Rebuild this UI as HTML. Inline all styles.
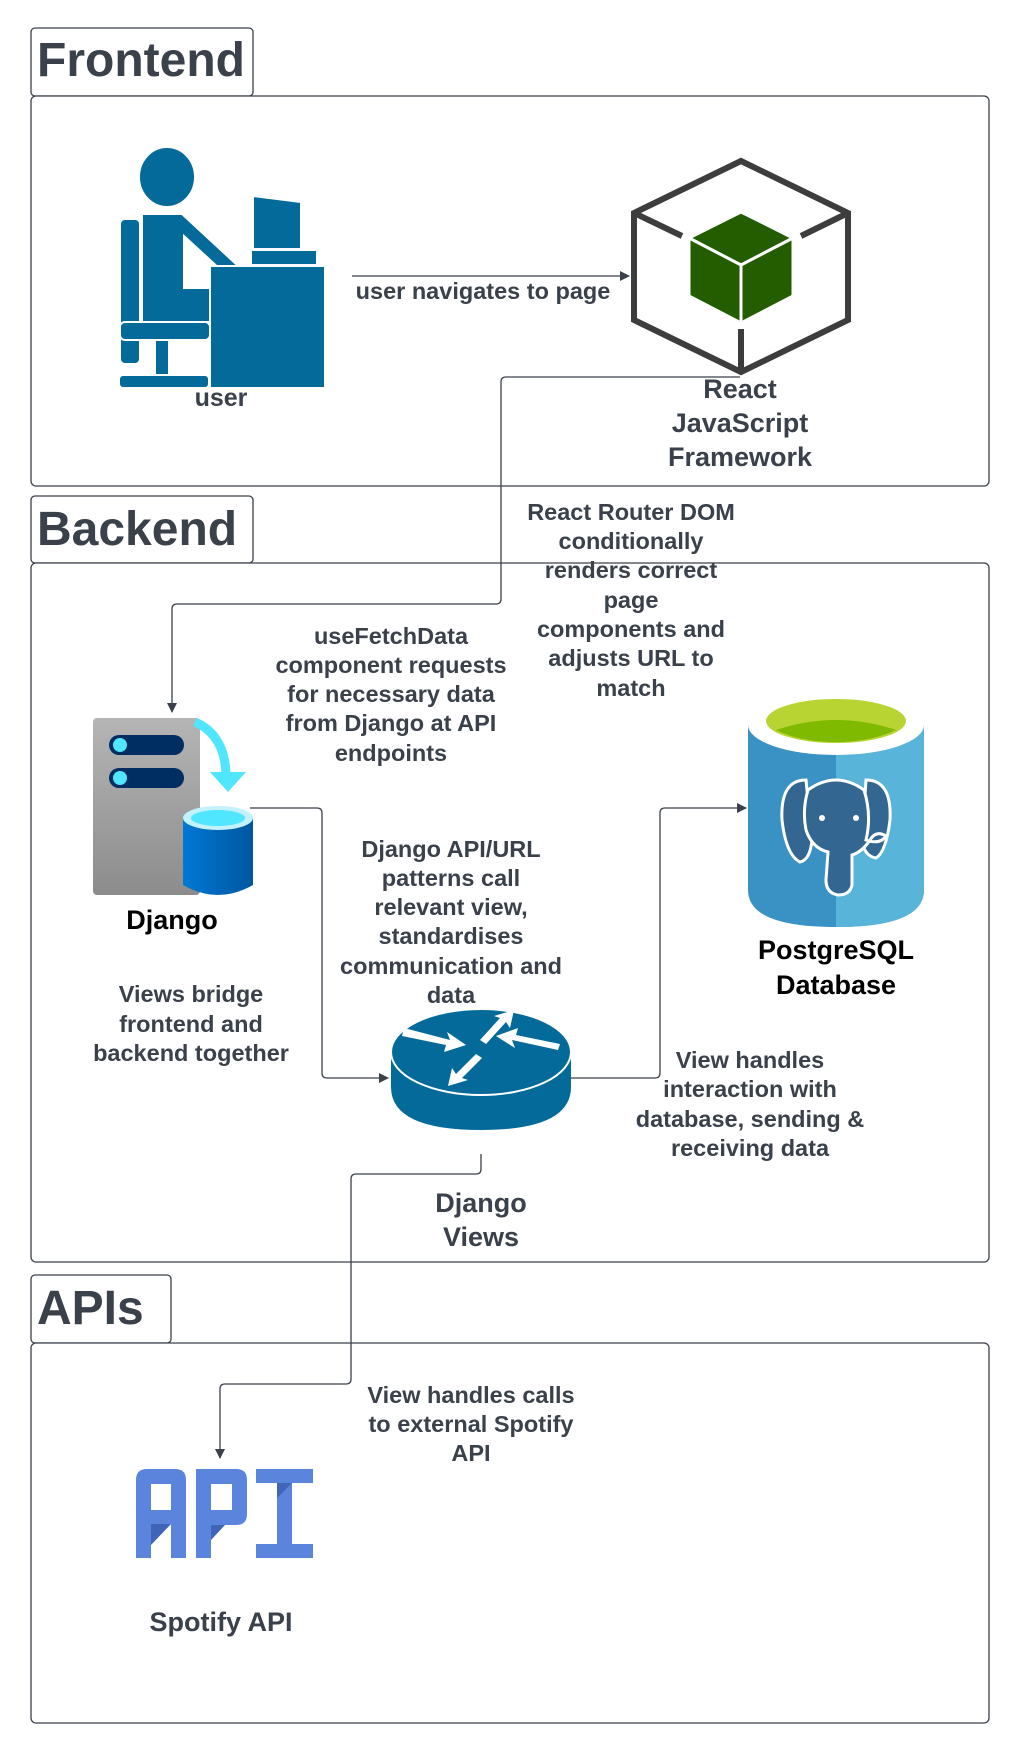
<!DOCTYPE html>
<html><head><meta charset="utf-8"><style>
html,body{margin:0;padding:0;background:#fff}
svg{display:block}
text{font-family:"Liberation Sans",Arial,sans-serif;font-weight:bold;fill:#3a414a}
</style></head><body>
<svg width="1018" height="1748" viewBox="0 0 1018 1748" xmlns="http://www.w3.org/2000/svg">
<defs>
<marker id="ah" markerWidth="10" markerHeight="10" refX="9" refY="5" orient="auto" markerUnits="userSpaceOnUse"><path d="M0,0 L10,5 L0,10 z" fill="#3a414a"/></marker>
<linearGradient id="srv" x1="0" y1="0" x2="0" y2="1"><stop offset="0" stop-color="#b5b5b5"/><stop offset="1" stop-color="#8c8c8c"/></linearGradient>
<linearGradient id="cyl" x1="0" y1="0" x2="1" y2="0"><stop offset="0" stop-color="#0078d4"/><stop offset="1" stop-color="#0057a0"/></linearGradient>
</defs>
<g fill="#fff" stroke="#3a414a" stroke-width="1.3">
<rect x="31" y="28" width="222" height="68" rx="4"/>
<rect x="31" y="96" width="958" height="390" rx="5"/>
<rect x="31" y="496" width="222" height="67" rx="4"/>
<rect x="31" y="563" width="958" height="699" rx="5"/>
<rect x="31" y="1275" width="140" height="68" rx="4"/>
<rect x="31" y="1343" width="958" height="380" rx="5"/>
</g>
<text x="37" y="76" font-size="48">Frontend</text>
<text x="37" y="545" font-size="48">Backend</text>
<text x="37" y="1324" font-size="48">APIs</text>

<!-- user icon -->
<g fill="#036a9a" stroke="#fff" stroke-width="2">
<ellipse cx="167" cy="177" rx="28" ry="30"/>
<rect x="120" y="219" width="20" height="145" rx="5"/>
<path d="M142 214 L182 214 L236 264 Q244 276 234 282 L184 236 L184 288 L210 288 L210 322 L142 322 Z"/>
<rect x="120" y="322" width="90" height="18" rx="5"/>
<rect x="155" y="340" width="14" height="36"/>
<rect x="119" y="375" width="90" height="13" rx="4"/>
<path d="M253 196 L301 202 L301 249 L253 249 Z"/>
<rect x="251" y="250" width="66" height="15"/>
<rect x="210" y="266" width="115" height="122"/>
</g>
<text x="221" y="406" font-size="25" text-anchor="middle">user</text>

<line x1="352" y1="276" x2="629" y2="276" stroke="#3a414a" stroke-width="1.3" marker-end="url(#ah)"/>
<text x="483" y="299" font-size="23.5" text-anchor="middle">user navigates to page</text>

<!-- react cube -->
<g fill="none" stroke="#3d3d3d" stroke-width="6" stroke-linejoin="miter">
<path d="M741 161 L848 213 L848 320 L741 372 L634 320 L634 213 Z"/>
<path d="M634 213 L682 236 M848 213 L801 236 M741 372 L741 329"/>
</g>
<g stroke="#fff" stroke-width="3">
<path d="M741 212 L793 238 L741 265 L689 238 Z" fill="#245d00"/>
<path d="M689 238 L741 265 L741 323 L689 296 Z" fill="#245d00"/>
<path d="M793 238 L741 265 L741 323 L793 296 Z" fill="#245d00"/>
</g>
<text font-size="27" text-anchor="middle"><tspan x="740" y="398">React</tspan><tspan x="740" y="432">JavaScript</tspan><tspan x="740" y="466">Framework</tspan></text>

<path d="M740 377 L506 377 Q501 377 501 382 L501 599 Q501 604 496 604 L177 604 Q172 604 172 609 L172 712" fill="none" stroke="#3a414a" stroke-width="1.3" marker-end="url(#ah)"/>
<text font-size="23.5" text-anchor="middle"><tspan x="631" y="520">React Router DOM</tspan><tspan x="631" y="549">conditionally</tspan><tspan x="631" y="578">renders correct</tspan><tspan x="631" y="608">page</tspan><tspan x="631" y="637">components and</tspan><tspan x="631" y="666">adjusts URL to</tspan><tspan x="631" y="696">match</tspan></text>
<text font-size="23.5" text-anchor="middle"><tspan x="391" y="644">useFetchData</tspan><tspan x="391" y="673">component requests</tspan><tspan x="391" y="702">for necessary data</tspan><tspan x="391" y="731">from Django at API</tspan><tspan x="391" y="761">endpoints</tspan></text>

<!-- django server -->
<rect x="93" y="718" width="107" height="177" rx="4" fill="url(#srv)"/>
<rect x="109" y="735" width="75" height="20" rx="10" fill="#002d62"/>
<rect x="109" y="768" width="75" height="20" rx="10" fill="#002d62"/>
<circle cx="120" cy="745" r="7" fill="#50e6ff"/>
<circle cx="120" cy="778" r="7" fill="#50e6ff"/>
<path d="M195 722 Q225 735 226 775" fill="none" stroke="#50e6ff" stroke-width="9"/>
<path d="M210 772 L246 772 L228 792 Z" fill="#50e6ff"/>
<path d="M183 818 L253 818 L253 885 Q218 905 183 885 Z" fill="url(#cyl)"/>
<ellipse cx="218" cy="818" rx="35" ry="12" fill="#c3f1ff"/>
<ellipse cx="218" cy="818" rx="27" ry="8" fill="#50e6ff"/>
<text x="172" y="929" font-size="27" text-anchor="middle" style="fill:#000">Django</text>

<path d="M250 808 L317 808 Q322 808 322 813 L322 1073 Q322 1078 327 1078 L388 1078" fill="none" stroke="#3a414a" stroke-width="1.3" marker-end="url(#ah)"/>
<text font-size="23.5" text-anchor="middle"><tspan x="451" y="857">Django API/URL</tspan><tspan x="451" y="886">patterns call</tspan><tspan x="451" y="915">relevant view,</tspan><tspan x="451" y="944">standardises</tspan><tspan x="451" y="974">communication and</tspan><tspan x="451" y="1003">data</tspan></text>
<text font-size="23.5" text-anchor="middle"><tspan x="191" y="1002">Views bridge</tspan><tspan x="191" y="1032">frontend and</tspan><tspan x="191" y="1061">backend together</tspan></text>

<!-- router -->
<path d="M391 1052 L571 1052 L571 1087 Q571 1130 481 1130 Q391 1130 391 1087 Z" fill="#036a9a"/>
<ellipse cx="481" cy="1052" rx="90" ry="43" fill="#036a9a" stroke="#fff" stroke-width="2"/>
<g fill="#fff">
<path d="M404 1028 L450 1040 L447 1032 L466 1045 L444 1052 L446 1045 L402 1036 Z"/>
<path d="M558 1050 L512 1040 L515 1048 L496 1036 L518 1028 L516 1035 L560 1044 Z"/>
<path d="M480 1040 L500 1018 L494 1016 L514 1010 L510 1028 L506 1022 L486 1044 Z"/>
<path d="M482 1058 L462 1078 L468 1080 L448 1086 L452 1068 L456 1074 L476 1054 Z"/>
</g>

<path d="M571 1078 L655 1078 Q660 1078 660 1073 L660 813 Q660 808 665 808 L746 808" fill="none" stroke="#3a414a" stroke-width="1.3" marker-end="url(#ah)"/>

<!-- postgres -->
<path d="M748 725 L924 725 L924 890 Q924 927 836 927 Q748 927 748 890 Z" fill="#3a92c4"/>
<path d="M836 725 L924 725 L924 890 Q924 927 836 927 Z" fill="#59b4d9"/>
<ellipse cx="836" cy="725" rx="88" ry="30" fill="#fff"/>
<ellipse cx="836" cy="721" rx="70" ry="22" fill="#b8d432"/>
<path d="M776 730 Q836 710 896 730 Q870 742 836 742 Q800 742 776 730 Z" fill="#7fba00"/>
<g fill="#336791" stroke="#fff" stroke-width="3">
<path d="M806 780 Q780 780 782 820 Q786 855 800 862 Q810 860 812 840 Z"/>
<path d="M866 780 Q892 780 890 820 Q886 852 876 858 Q864 856 862 840 Z"/>
<path d="M808 790 Q836 770 864 790 Q872 815 866 840 Q880 845 886 836 Q876 830 870 840 Q862 852 852 855 L852 885 Q850 895 838 895 Q826 893 826 880 L828 852 Q812 848 806 830 Q802 810 808 790 Z"/>
</g>
<circle cx="822" cy="818" r="3" fill="#fff"/><circle cx="856" cy="818" r="3" fill="#fff"/>
<text font-size="27" text-anchor="middle" style="fill:#000"><tspan x="836" y="959">PostgreSQL</tspan><tspan x="836" y="994">Database</tspan></text>
<text font-size="23.5" text-anchor="middle"><tspan x="750" y="1068">View handles</tspan><tspan x="750" y="1097">interaction with</tspan><tspan x="750" y="1127">database, sending &amp;</tspan><tspan x="750" y="1156">receiving data</tspan></text>

<text font-size="27" text-anchor="middle"><tspan x="481" y="1212">Django</tspan><tspan x="481" y="1246">Views</tspan></text>

<path d="M481 1154 L481 1169 Q481 1174 476 1174 L356 1174 Q351 1174 351 1179 L351 1379 Q351 1384 346 1384 L225 1384 Q220 1384 220 1389 L220 1458" fill="none" stroke="#3a414a" stroke-width="1.3" marker-end="url(#ah)"/>
<text font-size="23.5" text-anchor="middle"><tspan x="471" y="1403">View handles calls</tspan><tspan x="471" y="1432">to external Spotify</tspan><tspan x="471" y="1461">API</tspan></text>

<!-- API logo -->
<g fill="#5b84dc">
<path d="M136 1480 Q136 1469 147 1469 L175 1469 Q186 1469 186 1480 L186 1558 L171 1558 L171 1524 L151 1524 L151 1558 L136 1558 Z M151 1484 L151 1510 L171 1510 L171 1484 Z"/>
<path d="M196 1469 L236 1469 Q247 1469 247 1480 L247 1514 Q247 1525 236 1525 L211 1525 L211 1558 L196 1558 Z M211 1484 L211 1510 L232 1510 L232 1484 Z"/>
<path d="M256 1469 L313 1469 L313 1483 L292 1483 L292 1544 L313 1544 L313 1558 L256 1558 L256 1544 L277 1544 L277 1483 L256 1483 Z"/>
</g>
<g fill="#3f64b8"><path d="M151 1524 L171 1524 L151 1545 Z"/><path d="M211 1525 L225 1525 L211 1540 Z"/><path d="M277 1483 L292 1483 L277 1498 Z"/></g>
<text x="221" y="1631" font-size="27" text-anchor="middle">Spotify API</text>
</svg>
</body></html>
